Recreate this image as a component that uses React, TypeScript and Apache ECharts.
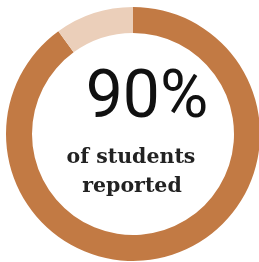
import React, { useEffect, useRef } from "react";
import * as echarts from "echarts";

const categories = ["Reported", "Not reported"];
const values = [90, 10];
const colors = ["#C27A44", "#EBCFBA"];
const bigLabel = "90%";
const captionLines = ["of students", "reported"];

export default function App() {
  const ref = useRef<HTMLDivElement>(null);
  useEffect(() => {
    if (!ref.current) return;
    const chart = echarts.init(ref.current, undefined, { renderer: "svg" });
    chart.setOption({
      animation: false,
      series: [
        {
          type: "pie",
          center: [133, 134],
          radius: [101, 127],
          startAngle: 90,
          clockwise: true,
          label: { show: false },
          labelLine: { show: false },
          silent: true,
          data: categories.map((c, i) => ({
            name: c,
            value: values[i],
            itemStyle: { color: colors[i] },
          })),
        },
      ],
      graphic: [
        {
          type: "text",
          x: 147,
          y: 94,
          style: {
            text: bigLabel,
            fontFamily: "Roboto",
            fontWeight: 400,
            fontSize: 66,
            fill: "#111",
            align: "center",
            verticalAlign: "middle",
          },
        },
        {
          type: "text",
          x: 131,
          y: 156,
          style: {
            text: captionLines[0],
            fontFamily: "DejaVu Serif",
            fontWeight: "bold",
            fontSize: 20.5,
            fill: "#222",
            align: "center",
            verticalAlign: "middle",
          },
        },
        {
          type: "text",
          x: 132,
          y: 185,
          style: {
            text: captionLines[1],
            fontFamily: "DejaVu Serif",
            fontWeight: "bold",
            fontSize: 20.5,
            fill: "#222",
            align: "center",
            verticalAlign: "middle",
          },
        },
      ],
    });
    return () => chart.dispose();
  }, []);
  return (
    <div
      ref={ref}
      style={{ position: "fixed", left: 0, top: 0, width: 259, height: 262 }}
    />
  );
}
